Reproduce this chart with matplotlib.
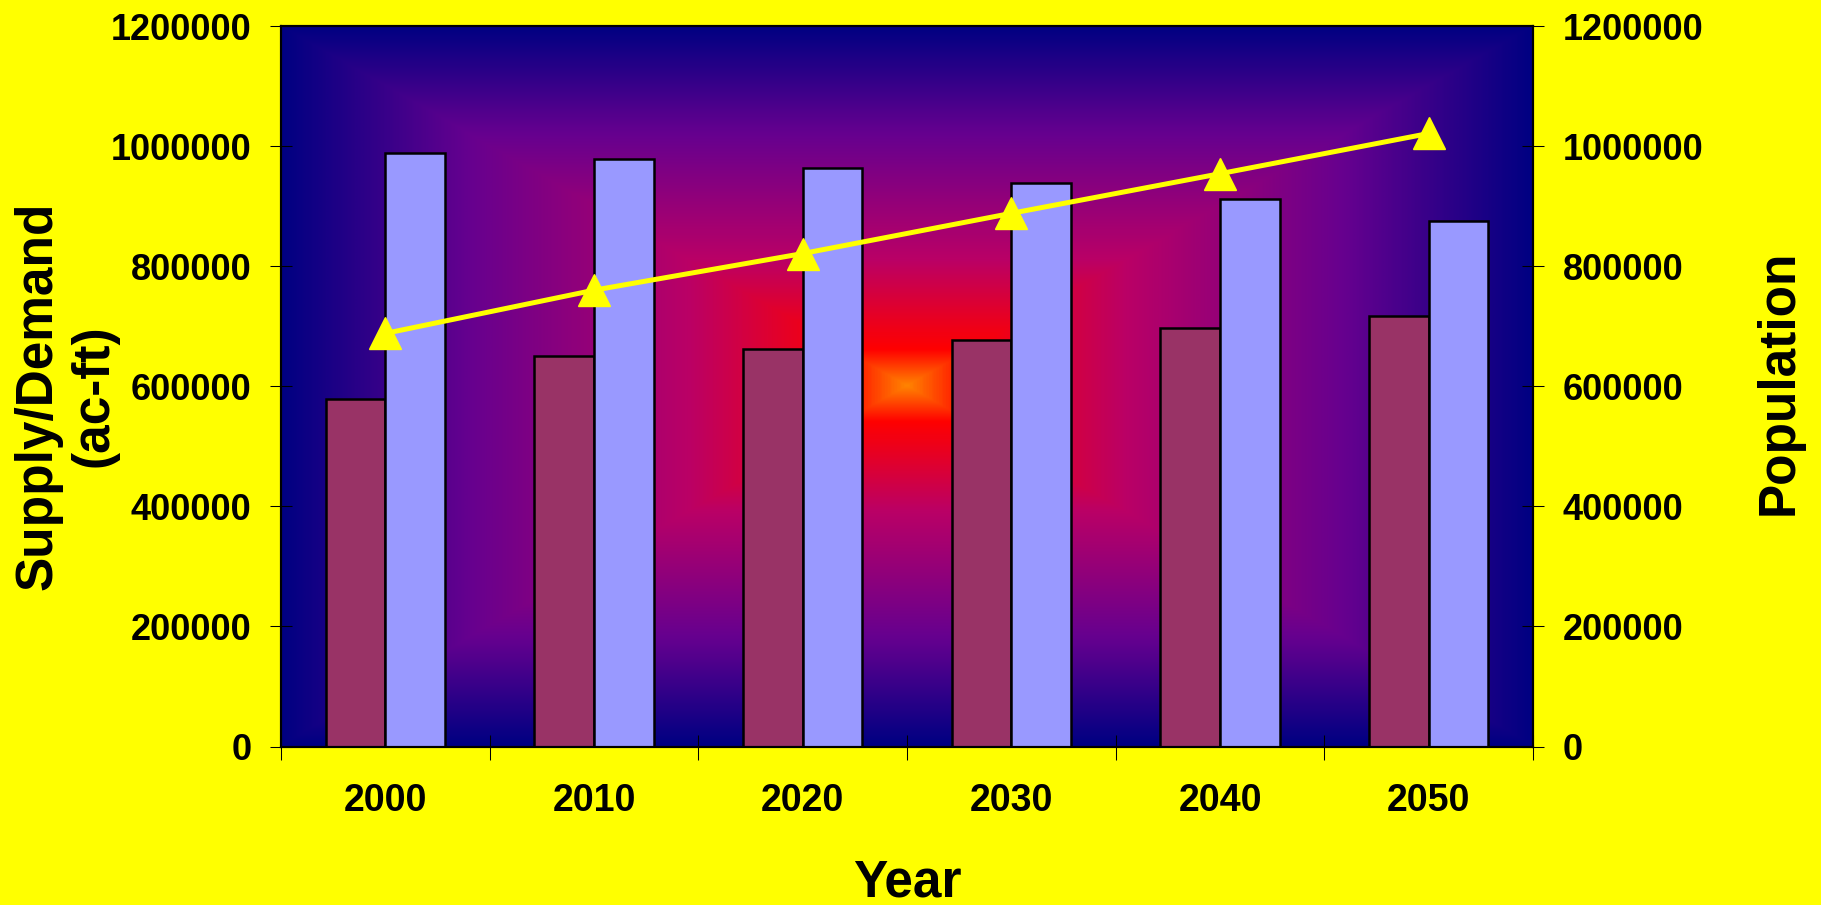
import numpy as np
import matplotlib
matplotlib.use("Agg")
import matplotlib.pyplot as plt
from matplotlib.colors import LinearSegmentedColormap

# Supply / demand (ac-ft) and population by decade
years = ["2000", "2010", "2020", "2030", "2040", "2050"]
supply = [579000, 651000, 662000, 677000, 697000, 717000]
demand = [988000, 979000, 963000, 938000, 912000, 876000]
population = [688000, 760000, 821000, 888000, 954000, 1021000]

y_ticks = [0, 200000, 400000, 600000, 800000, 1000000, 1200000]

W, H, DPI = 1821, 905, 100
fig = plt.figure(figsize=(W / DPI, H / DPI), dpi=DPI, facecolor="#FFFF00")
ax = fig.add_axes([281 / W, 1 - 746.5 / H, (1533 - 281) / W, (746.5 - 26) / H])

# "Early sunset" rectangular gradient from the centre of the plot area
sunset = LinearSegmentedColormap.from_list(
    "sunset",
    [(0.0, "#000082"), (0.30, "#66008F"), (0.65, "#BA0066"),
     (0.90, "#FF0000"), (1.0, "#FF8200")])
gx, gy = np.meshgrid(np.linspace(-1, 1, 900), np.linspace(-1, 1, 520))
shade = 1 - np.maximum(np.abs(gx), np.abs(gy))
ax.imshow(shade, cmap=sunset, vmin=0, vmax=1, extent=[0, 1, 0, 1],
          transform=ax.transAxes, aspect="auto", zorder=0, interpolation="bilinear")

x = np.arange(len(years))
w = 1 / 3.5
ax.bar(x - w / 2, supply, w, color="#993366", edgecolor="black", linewidth=1.8, zorder=2)
ax.bar(x + w / 2, demand, w, color="#9999FF", edgecolor="black", linewidth=1.8, zorder=2)

ax.set_xlim(-0.5, len(years) - 0.5)
ax.set_ylim(0, 1200000)

tick_font = dict(family="Liberation Sans", weight="bold", size=26)
ax.set_yticks(y_ticks)
ax.set_yticklabels([str(v) for v in y_ticks], **tick_font)
ax.tick_params(axis="y", direction="inout", length=16.5, width=0.75, pad=13)

ax.set_xticks(np.arange(len(years) + 1) - 0.5)
ax.set_xticklabels([])
ax.set_xticks(x, minor=True)
ax.set_xticklabels(years, minor=True, family="Liberation Sans", weight="bold", size=27)
ax.tick_params(axis="x", which="major", direction="inout", length=18, width=0.75)
ax.tick_params(axis="x", which="minor", length=0, pad=26)

for s in ax.spines.values():
    s.set_linewidth(1.5)
    s.set_color("black")

# Population on the secondary axis
ax2 = ax.twinx()
ax2.plot(x, population, color="#FFFF00", linewidth=3.6, marker="^",
         markersize=23, markeredgecolor="#FFFF00", clip_on=False, zorder=3)
ax2.set_ylim(0, 1200000)
ax2.set_yticks(y_ticks)
ax2.set_yticklabels([str(v) for v in y_ticks], **tick_font)
ax2.tick_params(axis="y", direction="inout", length=16.5, width=0.75, pad=13)
for s in ax2.spines.values():
    s.set_linewidth(1.5)

title_font = dict(family="Liberation Sans", weight="bold", size=37)
fig.text(907 / W, 1 - 896 / H, "Year", ha="center", va="baseline", **title_font)
fig.text(66 / W, 1 - 396 / H, "Supply/Demand\n(ac-ft)", rotation=90, ha="center",
         va="center", multialignment="center", **title_font)
fig.text(1779 / W, 1 - 382.5 / H, "Population", rotation=90, ha="center",
         va="center", **title_font)

fig.savefig("out.png", dpi=DPI, facecolor=fig.get_facecolor())
